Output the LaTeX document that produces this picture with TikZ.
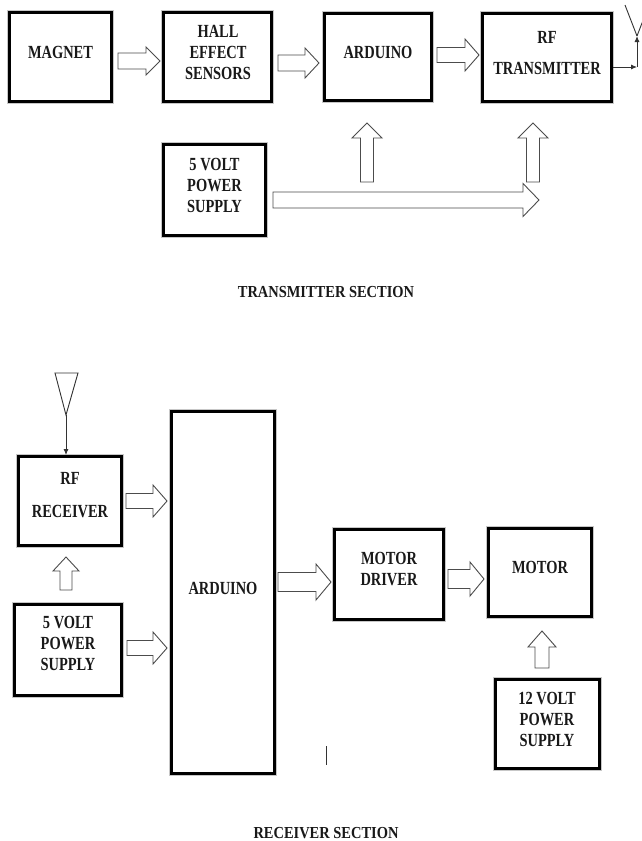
\documentclass[tikz,border=0pt]{standalone}
\usepackage{fontspec}
\newfontfamily\boxfont[FakeStretch=0.78]{Liberation Serif}
\newfontfamily\titlefont[FakeStretch=0.86]{Liberation Serif}
\usetikzlibrary{arrows.meta}
\tikzset{
  box/.style={draw=black, line width=3pt, fill=white, inner sep=0pt,
    preaction={draw=black!22, line width=5pt}},
  lbl/.style={font=\boxfont\bfseries\fontsize{18.5}{21}\selectfont, align=center, inner sep=0pt, text=black!90},
  ttl/.style={font=\titlefont\bfseries\fontsize{16.8}{19}\selectfont, inner sep=0pt, text=black!90},
  blockarrow/.style={draw=black!70, line width=0.9pt, fill=white, line join=miter},
  wire/.style={draw=black!80, line width=0.9pt},
  wiretip/.style={-{Latex[length=6pt,width=5pt]}}
}
% #1 x, #2 y, #3 angle, #4 length, #5 shaft half width, #6 head half width, #7 head length
\newcommand\blockarr[7]{%
  \begin{scope}[shift={(#1,#2)}, rotate=#3]
    \draw[blockarrow] (0,-#5) -- (#4-#7,-#5) -- (#4-#7,-#6) -- (#4,0) -- (#4-#7,#6) -- (#4-#7,#5) -- (0,#5) -- cycle;
  \end{scope}}
\begin{document}
\begin{tikzpicture}[x=1pt, y=-1pt]
\useasboundingbox (0,0) rectangle (641,841);
\fill[white] (0,0) rectangle (641,841);

% ---------------- Transmitter section ----------------
\node[box, minimum width=102pt, minimum height=89pt] (magnet) at (60.5,57) {};
\node[box, minimum width=108pt, minimum height=89pt] (hall) at (217.5,57) {};
\node[box, minimum width=107pt, minimum height=87pt] (ard1) at (378,57) {};
\node[box, minimum width=129pt, minimum height=88pt] (rftx) at (547,57.5) {};
\node[box, minimum width=102pt, minimum height=91pt] (ps1) at (214.5,190) {};

\node[lbl] (magnetT) at (60.5,52) {MAGNET};
\node[lbl] (hallT) at (218,52) {HALL\\EFFECT\\SENSORS};
\node[lbl] (ard1T) at (378,52) {ARDUINO};
\node[lbl] (rftxA) at (547,37) {RF};
\node[lbl] (rftxB) at (547,68) {TRANSMITTER};
\node[lbl] (ps1T) at (214.5,185) {5 VOLT\\POWER\\SUPPLY};

\blockarr{118}{61}{0}{42}{8}{14}{14}
\blockarr{278}{63}{0}{41}{8}{15}{14}
\blockarr{437}{55}{0}{42}{7.5}{16}{14}
\blockarr{367}{182}{90}{59}{6.5}{15}{15}
\blockarr{533}{182}{90}{59}{6.5}{15}{15}
\blockarr{273}{200}{0}{266}{8}{16.5}{16}

% transmitter antenna
\coordinate (txc) at (637,67);
\coordinate (txa) at (637,36);
\draw[wire, wiretip] (rftx.east |- txc) -- (txc);
\draw[wire, wiretip] (txc) -- (txa);
\draw[wire] (txa) -- (625,5);
\draw[wire] (txa) -- (649,5);

\node[ttl] (txTitle) at (326,292) {TRANSMITTER SECTION};

% ---------------- Receiver section ----------------
\node[box, minimum width=103pt, minimum height=89pt] (rfrx) at (70,501) {};
\node[box, minimum width=107pt, minimum height=91pt] (ps2) at (68,650) {};
\node[box, minimum width=103pt, minimum height=362pt] (ard2) at (223,592.5) {};
\node[box, minimum width=109pt, minimum height=90pt] (md) at (389,574.5) {};
\node[box, minimum width=103pt, minimum height=88pt] (motor) at (540,572.5) {};
\node[box, minimum width=104pt, minimum height=89pt] (ps12) at (547.5,724) {};

\node[lbl] (rfrxA) at (70,478) {RF};
\node[lbl] (rfrxB) at (70,512) {RECEIVER};
\node[lbl] (ps2T) at (68,643) {5 VOLT\\POWER\\SUPPLY};
\node[lbl] (ard2T) at (223,588) {ARDUINO};
\node[lbl] (mdT) at (389,569.5) {MOTOR\\DRIVER};
\node[lbl] (motorT) at (540,567) {MOTOR};
\node[lbl] (ps12T) at (547,719) {12 VOLT\\POWER\\SUPPLY};

\blockarr{126}{501}{0}{41}{7.5}{16}{14}
\blockarr{127}{648}{0}{40}{7.5}{16}{14}
\blockarr{66}{590}{90}{33}{6}{13}{14}
\blockarr{278}{582}{0}{53}{9.5}{18}{15}
\blockarr{448}{579}{0}{36}{9.5}{17}{14}
\blockarr{542}{668}{90}{37}{7}{14}{16}

% receiver antenna
\coordinate (rxa) at (66,415);
\draw[wire] (55,373) -- (78,373) -- (rxa) -- cycle;
\draw[wire, wiretip] (rxa) -- (rxa |- rfrx.north);

% stray mark
\draw[wire] (326,746) -- (326,765);

\node[ttl] (rxTitle) at (326,833) {RECEIVER SECTION};
\end{tikzpicture}
\end{document}
